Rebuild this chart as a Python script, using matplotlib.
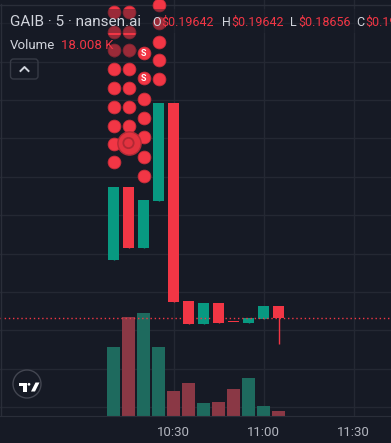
import matplotlib
matplotlib.use("Agg")
import matplotlib.pyplot as plt
import matplotlib.patches as mpatches
import matplotlib.transforms as mtransforms
import numpy as np

# candles, 5 minute bars starting 10:10
opens = [0.2083, 0.2273, 0.2115, 0.2237, 0.2492, 0.1977, 0.1917, 0.1971, 0.1922, 0.1919, 0.1930, 0.19642]
closes = [0.2273, 0.2115, 0.2240, 0.2492, 0.1974, 0.1917, 0.1971, 0.1919, 0.19215, 0.1932, 0.19642, 0.1931]
highs = [0.2273, 0.2273, 0.2240, 0.2492, 0.2492, 0.1977, 0.1971, 0.1971, 0.1922, 0.1932, 0.19642, 0.19642]
lows = [0.2083, 0.2115, 0.2115, 0.2237, 0.1974, 0.1917, 0.1917, 0.1919, 0.19215, 0.1919, 0.1930, 0.18656]
volumes = [248, 356, 371, 248, 90, 119, 47, 50, 97, 137, 36, 18.008]  # in K
last_close = 0.1931

time_ticks = [4, 10, 16]
time_labels = ["10:30", "11:00", "11:30"]
price_grid = [0.17, 0.18, 0.19, 0.20, 0.21, 0.22, 0.23, 0.24, 0.25, 0.26, 0.27]

# nansen trade bubbles (bar index, price)
bubble_x = [0, 0, 0, 0, 0, 0, 0, 0, 0,
            1, 1, 1, 1, 1, 1, 1,
            2, 2, 2, 2, 2,
            3, 3, 3, 3, 3]
bubble_y = [0.2729, 0.2677, 0.2630, 0.2581, 0.2531, 0.2482, 0.2432, 0.2385, 0.2339,
            0.2729, 0.2677, 0.2630, 0.2581, 0.2531, 0.2482, 0.2432,
            0.2503, 0.2453, 0.2404, 0.2352, 0.2302,
            0.2747, 0.2701, 0.2651, 0.2604, 0.2555]
sell_x = [2, 2]
sell_y = [0.2622, 0.2557]
big_x = [1]
big_y = [0.2388]

BG = "#161a25"
GRID = "#242833"
GREEN = "#089981"
RED = "#f23645"
TXT = "#d1d4dc"
VOL_TOP = 1498.0

plt.rcParams['font.family'] = ['Roboto', 'DejaVu Sans']

fig = plt.figure(figsize=(3.91, 4.43), dpi=100, facecolor=BG)
ax = fig.add_axes([0, 27 / 443, 1, 416 / 443])
ax.set_facecolor(BG)
ax.set_xlim(-113.5 / 15, (391 - 113.5) / 15)
ax.set_ylim(0.16771, 0.27604)

for s in ax.spines.values():
    s.set_visible(False)
ax.spines['bottom'].set_visible(True)
ax.spines['bottom'].set_color("#2a2e39")

ax.set_xticks(time_ticks)
ax.set_xticklabels(time_labels)
ax.set_yticks(price_grid)
ax.tick_params(axis='x', length=0, pad=7, labelsize=9.5, labelcolor="#b2b5be")
ax.tick_params(axis='y', length=0, labelleft=False)
ax.grid(True, color=GRID, linewidth=1)
ax.set_axisbelow(True)

x = np.arange(len(opens))
cols = [GREEN if c >= o else RED for o, c in zip(opens, closes)]
vcols = ["#1e6a5e" if c >= o else "#8a3845" for o, c in zip(opens, closes)]

# volume on its own scale at the bottom of the same pane
vol_trans = mtransforms.Affine2D().scale(1, 1 / VOL_TOP) + \
    mtransforms.blended_transform_factory(ax.transData, ax.transAxes)
ax.bar(x, volumes, width=0.93, color=vcols, transform=vol_trans, zorder=1)

# candles
ax.vlines(x, lows, highs, color=cols, linewidth=1, zorder=2)
body_lo = np.minimum(opens, closes)
body_h = np.maximum(np.abs(np.array(closes) - np.array(opens)), 0.0003)
ax.bar(x, body_h, bottom=body_lo, width=0.73, color=cols, zorder=2)

ax.axhline(last_close, color=RED, linewidth=1, linestyle=(0, (1, 2)), zorder=3)

# bubbles
ax.scatter(bubble_x, bubble_y, s=85, color=RED, edgecolor="#c82d3a", linewidth=0.6, zorder=4)
ax.scatter(big_x, big_y, s=280, color="#e3323f", edgecolor="#b42a36", linewidth=1, zorder=4)
ax.scatter(big_x, big_y, s=55, facecolor="none", edgecolor="#b02834", linewidth=1.3, zorder=4)
ax.scatter(sell_x, sell_y, s=85, color=RED, edgecolor="#c82d3a", linewidth=0.6, zorder=4)
for sx, sy in zip(sell_x, sell_y):
    ax.text(sx, sy, "S", color="white", fontsize=6.5, fontweight="bold",
            ha="center", va="center", zorder=4.5)

# legend area (pixel based, figure in inches)
inch = fig.dpi_scale_trans


def P(px, py):
    return (px / 100, (443 - py) / 100)


ax.add_patch(mpatches.Rectangle(P(0, 33), 3.91, 0.24, transform=inch,
                                facecolor=BG, alpha=0.4, edgecolor="none", zorder=5))
ax.add_patch(mpatches.Rectangle(P(0, 57), 1.36, 0.22, transform=inch,
                                facecolor=BG, alpha=0.4, edgecolor="none", zorder=5))

row1 = [(10, "GAIB · 5 · nansen.ai", TXT, 11),
        (152, "O", TXT, 9), (161.5, "$0.19642", RED, 9),
        (222, "H", TXT, 9), (231, "$0.19642", RED, 9),
        (290, "L", TXT, 9), (298, "$0.18656", RED, 9),
        (356, "C", TXT, 9), (365, "$0.19310", RED, 9)]
for px, t, c, fs in row1:
    ax.text(*P(px, 22), t, color=c, fontsize=fs, transform=inch,
            ha="left", va="center", zorder=6)
ax.text(*P(10, 45.5), "Volume", color=TXT, fontsize=9.5, transform=inch,
        ha="left", va="center", zorder=6)
ax.text(*P(61, 45.5), "18.008 K", color=RED, fontsize=9.5, transform=inch,
        ha="left", va="center", zorder=6)

# collapse button
ax.add_patch(mpatches.FancyBboxPatch(P(10.5, 79), 0.275, 0.20, transform=inch,
                                     boxstyle="round,pad=0,rounding_size=0.03",
                                     facecolor="none", edgecolor="#363a45", linewidth=1, zorder=6))
chev = np.array([P(20.5, 71), P(24.5, 67), P(28.5, 71)])
ax.plot(chev[:, 0], chev[:, 1], color=TXT, linewidth=1.4, transform=inch, zorder=6)

# TradingView logo
ax.add_patch(mpatches.Circle(P(27, 384), 0.14, transform=inch, facecolor=BG,
                             edgecolor="#434651", linewidth=1, zorder=6))
ax.add_patch(mpatches.Polygon([P(18.5, 382.5), P(26.7, 382.5), P(26.7, 391.5), P(22.8, 391.5),
                               P(22.8, 386), P(18.5, 386)], transform=inch,
                              facecolor="white", edgecolor="none", zorder=7))
ax.add_patch(mpatches.Circle(P(29, 384.3), 0.014, transform=inch, facecolor="white",
                             edgecolor="none", zorder=7))
ax.add_patch(mpatches.Polygon([P(31, 391.5), P(35, 391.5), P(39.5, 382.5), P(35.5, 382.5)],
                              transform=inch, facecolor="white", edgecolor="none", zorder=7))

# pane borders
ax.plot([P(0.5, 4)[0], P(0.5, 416)[0]], [P(0.5, 4)[1], P(0.5, 416)[1]], color="#2a2e39",
        linewidth=1, transform=inch, zorder=6)
ax.plot([P(0, 4.5)[0], P(391, 4.5)[0]], [P(0, 4.5)[1], P(391, 4.5)[1]], color="#2a2e39",
        linewidth=1, transform=inch, zorder=0.8)

fig.savefig("out.png", dpi=100, facecolor=BG)
